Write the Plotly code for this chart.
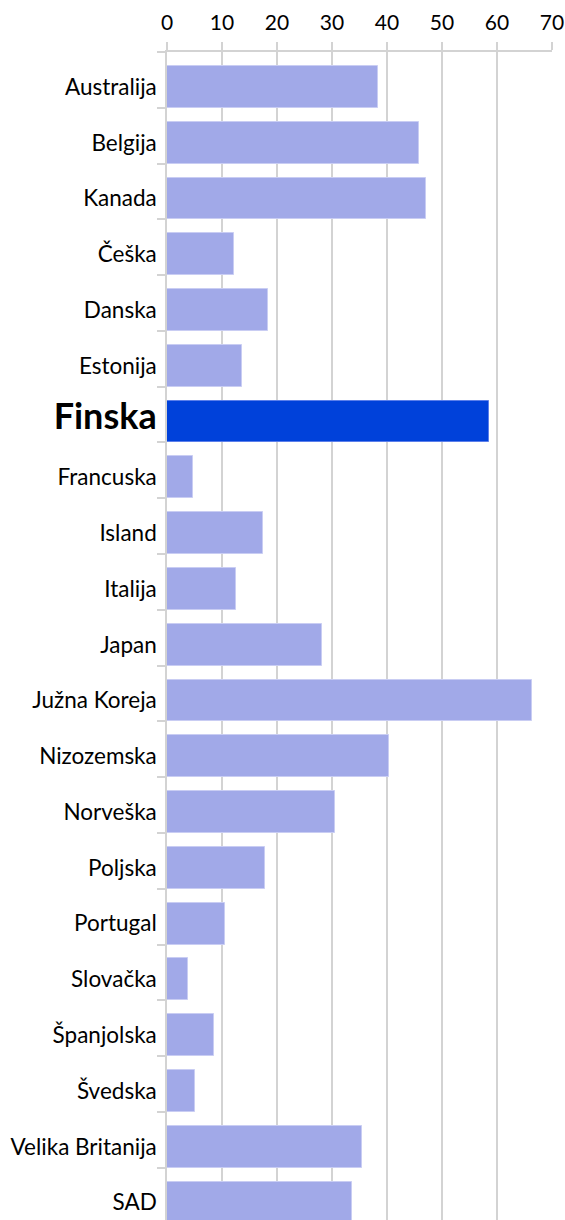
import plotly.graph_objects as go

countries = ["Australija", "Belgija", "Kanada", "Češka", "Danska", "Estonija", "Finska",
             "Francuska", "Island", "Italija", "Japan", "Južna Koreja", "Nizozemska",
             "Norveška", "Poljska", "Portugal", "Slovačka", "Španjolska", "Švedska",
             "Velika Britanija", "SAD"]
values = [38.4, 45.9, 47.0, 12.2, 18.3, 13.7, 58.5, 4.8, 17.4, 12.5, 28.1, 66.4, 40.3,
          30.6, 17.9, 10.5, 3.9, 8.5, 5.0, 35.4, 33.6]
highlight = "Finska"
x_ticks = [0, 10, 20, 30, 40, 50, 60, 70]

LIGHT = "#A1A9E8"
LIGHT_EDGE = "#C9CDF3"
DARK = "#0041DA"
DARK_EDGE = "#5C7FEA"

idx = list(range(len(countries)))
fills = [DARK if c == highlight else LIGHT for c in countries]
edges = [DARK_EDGE if c == highlight else LIGHT_EDGE for c in countries]
ticktext = [
    f"<b><span style='font-size:36px'>{c}</span></b>" if c == highlight else c
    for c in countries
]

fig = go.Figure(go.Bar(
    x=values, y=idx, orientation="h",
    width=0.75, offset=-0.25,
    marker=dict(color=fills, line=dict(color=edges, width=1)),
    hoverinfo="x+text", text=countries, textposition="none",
))

fig.update_layout(
    width=565, height=1220,
    margin=dict(l=166.5, r=13.3, t=51.7, b=0, pad=0),
    paper_bgcolor="white", plot_bgcolor="white",
    showlegend=False,
    font=dict(family="Lato", size=22.5, color="black"),
    bargap=0,
)
fig.update_xaxes(
    side="top", range=[0, 70], tickvals=x_ticks,
    showgrid=True, gridcolor="#D3D3D3", gridwidth=1.5,
    showline=True, linecolor="#D3D3D3", linewidth=1.5,
    ticks="outside", ticklen=8, tickcolor="#D3D3D3", tickwidth=1.5,
    ticklabelstandoff=4,
    tickfont=dict(size=21, family="Lato"), zeroline=False, fixedrange=True,
)
fig.update_yaxes(
    range=[len(countries) - 0.562, -0.5],
    tickvals=[i + 0.125 for i in idx], ticktext=ticktext,
    ticks="", showgrid=False, zeroline=False,
    showline=True, linecolor="#D3D3D3", linewidth=1.5,
    ticklabelstandoff=4,
    tickfont=dict(size=22.5, family="Lato"),
    minor=dict(tickvals=[i - 0.5 for i in idx] + [len(countries) - 0.5],
               ticks="outside", ticklen=8, tickcolor="#D3D3D3", tickwidth=1.5,
               showgrid=False),
    fixedrange=True,
)

fig.write_html("out.html")
